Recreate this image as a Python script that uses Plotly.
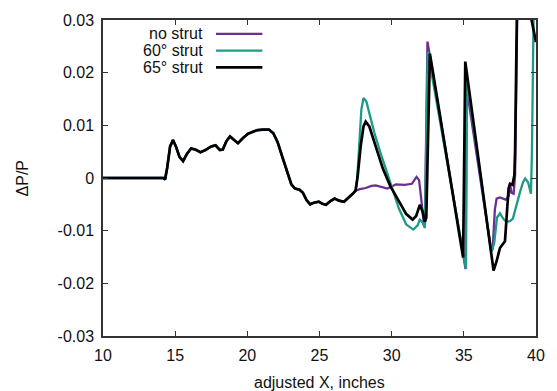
import plotly.graph_objects as go

# ---- data ----
common_x = [10, 14.2, 14.3, 14.45, 14.65, 14.85, 15.05, 15.3, 15.55, 15.8, 16.1, 16.4, 16.75,
            17.1, 17.5, 17.8, 18.1, 18.3, 18.55, 18.8, 19.05, 19.35, 19.7, 20.05, 20.4, 20.7,
            21.1, 21.5, 21.8, 22.1, 22.45, 22.8, 23.05, 23.3, 23.6, 23.85, 24.1, 24.35, 24.6,
            24.95, 25.2, 25.45, 25.75, 26.05, 26.35, 26.7, 27.0, 27.3, 27.5]
common_y = [0, 0, -0.0003, 0.002, 0.006, 0.0072, 0.0060, 0.0040, 0.0032, 0.0045, 0.0056, 0.0054,
            0.0049, 0.0053, 0.0060, 0.0062, 0.0053, 0.0054, 0.0070, 0.0079, 0.0073, 0.0066,
            0.0076, 0.0084, 0.0088, 0.0091, 0.0092, 0.0092, 0.0085, 0.0068, 0.0038, 0.0011,
            -0.0012, -0.0020, -0.0022, -0.0028, -0.0042, -0.0050, -0.0047, -0.0045, -0.0049,
            -0.0051, -0.0044, -0.0039, -0.0043, -0.0045, -0.0038, -0.0030, -0.0024]

nostrut_x = [27.8, 28.2, 28.6, 28.9, 29.3, 29.7, 30.0, 30.3, 30.9, 31.4, 31.72, 31.9, 32.07,
             32.23, 32.3, 32.48, 35.12, 35.2, 36.9, 37.0, 37.15, 37.27, 37.5, 37.9, 38.1, 38.2,
             38.3, 38.45, 38.55, 38.62, 38.72]
nostrut_y = [-0.0021, -0.0019, -0.0015, -0.0014, -0.0017, -0.0020, -0.0016, -0.0012, -0.0013,
             -0.0011, 0.0002, -0.0004, -0.0045, -0.0089, -0.0092, 0.0259, -0.0173, 0.0170,
             -0.0139, -0.0135, -0.0060, -0.0039, -0.0037, -0.0041, -0.0035, -0.0011, -0.0028,
             -0.0030, 0.0005, 0.0100, 0.0350]

strut60_x = [27.6, 27.75, 27.9, 28.05, 28.25, 28.5, 28.8, 29.2, 29.6, 30.0, 30.5, 31.0, 31.5,
             31.8, 31.95, 32.15, 32.3, 32.5, 35.15, 35.22, 36.9, 37.1, 37.3, 37.5, 37.75, 37.95,
             38.2, 38.4, 38.65, 38.9, 39.1, 39.25, 39.45, 39.6, 39.65, 39.72, 39.8, 39.85]
strut60_y = [-0.0005, 0.0060, 0.0130, 0.0152, 0.0145, 0.0118, 0.0086, 0.0050, 0.0017, -0.0015,
             -0.0058, -0.0088, -0.0098, -0.0090, -0.0079, -0.0085, -0.0095, 0.0240, -0.0173,
             0.0185, -0.0140, -0.0125, -0.0075, -0.0067, -0.0078, -0.0083, -0.0082, -0.0077,
             -0.0050, -0.0026, -0.0008, -0.0001, -0.0008, -0.0025, -0.0030, 0.0050, 0.0300, 0.0350]

strut65_x = [27.65, 27.85, 28.05, 28.2, 28.45, 28.8, 29.1, 29.4, 29.9, 30.5, 31.0, 31.45, 31.7,
             31.95, 32.15, 32.3, 32.4, 32.65, 34.95, 35.1, 37.06, 37.27, 37.5, 37.85, 37.95,
             38.1, 38.2, 38.37, 38.5, 38.55, 38.68, 39.1, 39.55, 40.0]
strut65_y = [0.0005, 0.0060, 0.0098, 0.0107, 0.0098, 0.0068, 0.0040, 0.0017, -0.0015, -0.0045,
             -0.0068, -0.0079, -0.0072, -0.0051, -0.0064, -0.0083, -0.0075, 0.0236, -0.0151,
             0.0221, -0.0176, -0.0158, -0.0133, -0.0120, -0.0077, -0.0020, -0.0011, -0.0013,
             0.0005, 0.0049, 0.0320, 0.0450, 0.0320, 0.0258]

names = ["no strut", "60° strut", "65° strut"]
colors = ["#6a2e94", "#1f9a88", "#000000"]
widths = [2.3, 2.3, 2.7]

y_ticks = [-0.03, -0.02, -0.01, 0, 0.01, 0.02, 0.03]
y_tick_text = ["-0.03", "-0.02", "-0.01", "0", "0.01", "0.02", "0.03"]
x_ticks = [10, 15, 20, 25, 30, 35, 40]

series = [
    (common_x + nostrut_x, common_y + nostrut_y),
    (common_x + strut60_x, common_y + strut60_y),
    (common_x + strut65_x, common_y + strut65_y),
]

FONT = "Liberation Sans, Arial, sans-serif"

fig = go.Figure()
for (xs, ys), n, c, w in zip(series, names, colors, widths):
    fig.add_trace(go.Scatter(x=xs, y=ys, mode="lines", name=n,
                             line=dict(color=c, width=w), showlegend=False))

# custom legend (text right-aligned, sample line to the right)
leg_y = [0.956, 0.903, 0.850]
for n, c, w, ly in zip(names, colors, widths, leg_y):
    fig.add_annotation(x=0.236, y=ly, xref="paper", yref="paper", text=n,
                       showarrow=False, xanchor="right", yanchor="middle",
                       font=dict(family=FONT, size=16, color="#111"))
    fig.add_shape(type="line", xref="paper", yref="paper", x0=0.261, x1=0.368,
                  y0=ly, y1=ly, line=dict(color=c, width=w))

fig.add_annotation(x=-0.186, y=0.5, xref="paper", yref="paper", text="ΔP/P",
                   showarrow=False, textangle=-90, xanchor="center", yanchor="middle",
                   font=dict(family=FONT, size=16, color="#111"))
fig.add_annotation(x=0.5, y=-0.146, xref="paper", yref="paper", text="adjusted X, inches",
                   showarrow=False, xanchor="center", yanchor="middle",
                   font=dict(family=FONT, size=16, color="#111"))

axis_common = dict(showline=True, linecolor="#333", linewidth=1.5, mirror="allticks",
                   ticks="inside", ticklen=5, tickcolor="#333", tickwidth=1,
                   showgrid=False, zeroline=False,
                   tickfont=dict(family=FONT, size=16, color="#111"))

fig.update_xaxes(range=[10, 40], tickvals=x_ticks, ticklabelstandoff=4, **axis_common)
fig.update_yaxes(range=[-0.03, 0.03], tickvals=y_ticks, ticktext=y_tick_text,
                 ticklabelstandoff=4, **axis_common)

fig.update_layout(width=557, height=391, margin=dict(l=103, r=14, t=16, b=55),
                  paper_bgcolor="white", plot_bgcolor="white")

fig.write_html("out.html")
